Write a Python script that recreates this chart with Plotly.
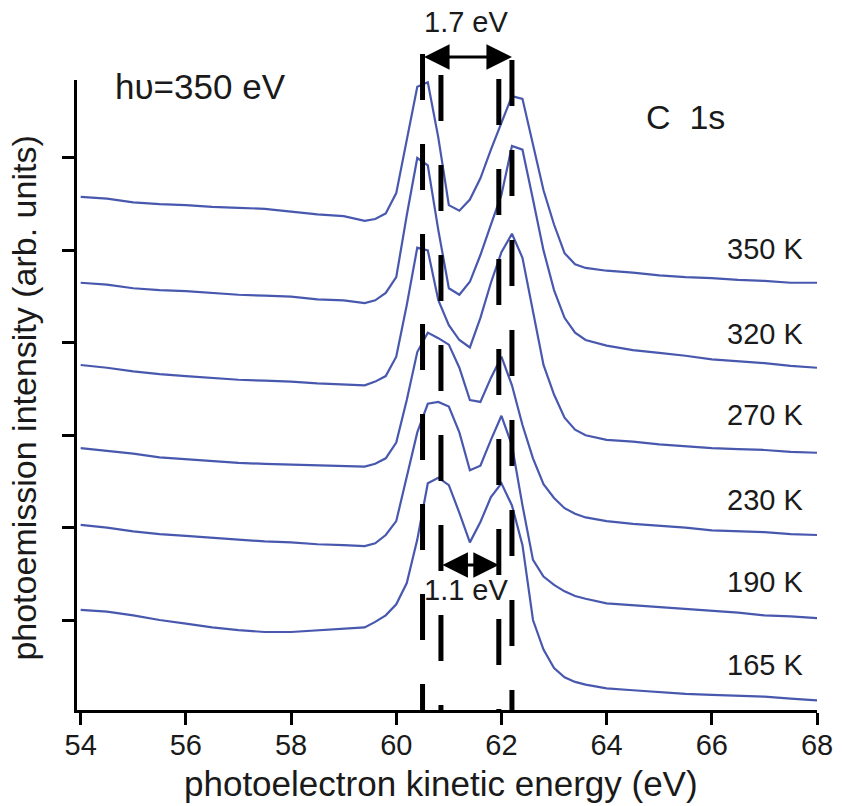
import plotly.graph_objects as go

# photoelectron kinetic energy (eV)
energy = [54.0, 54.5, 55.0, 55.5, 56.0, 56.5, 57.0, 57.5, 58.0, 58.5, 59.0,
          59.4, 59.6, 59.8, 60.0, 60.2, 60.4, 60.6, 60.8, 61.0, 61.2, 61.4,
          61.6, 61.8, 62.0, 62.2, 62.4, 62.6, 62.8, 63.0, 63.2, 63.4, 63.6,
          64.0, 64.5, 65.0, 65.5, 66.0, 66.5, 67.0, 67.5, 68.0]

# photoemission intensity (arb. units), spectra offset vertically
i350 = [5.58, 5.56, 5.52, 5.50, 5.49, 5.47, 5.46, 5.45, 5.42, 5.39, 5.37,
        5.32, 5.34, 5.40, 5.62, 6.20, 6.77, 6.82, 6.22, 5.49, 5.43, 5.55,
        5.78, 6.09, 6.39, 6.67, 6.64, 6.14, 5.65, 5.28, 4.97, 4.85, 4.81,
        4.78, 4.76, 4.73, 4.71, 4.70, 4.68, 4.67, 4.65, 4.65]
i320 = [4.65, 4.63, 4.59, 4.57, 4.56, 4.54, 4.52, 4.51, 4.50, 4.47, 4.46,
        4.43, 4.46, 4.54, 4.71, 5.38, 6.00, 5.92, 5.22, 4.59, 4.52, 4.66,
        4.95, 5.28, 5.60, 6.13, 6.09, 5.55, 5.00, 4.57, 4.27, 4.11, 4.03,
        3.97, 3.92, 3.89, 3.86, 3.82, 3.80, 3.78, 3.75, 3.73]
i270 = [3.76, 3.73, 3.69, 3.66, 3.64, 3.62, 3.60, 3.59, 3.58, 3.56, 3.55,
        3.54, 3.58, 3.64, 3.85, 4.41, 5.03, 5.00, 4.46, 4.19, 4.03, 3.95,
        4.27, 4.65, 4.98, 5.18, 4.92, 4.35, 3.76, 3.44, 3.19, 3.06, 3.00,
        2.95, 2.93, 2.90, 2.88, 2.86, 2.85, 2.84, 2.82, 2.81]
i230 = [2.86, 2.83, 2.80, 2.76, 2.74, 2.72, 2.70, 2.69, 2.68, 2.67, 2.66,
        2.66, 2.69, 2.75, 2.92, 3.38, 3.90, 4.11, 4.05, 3.98, 3.73, 3.38,
        3.36, 3.62, 3.85, 3.54, 3.11, 2.75, 2.47, 2.32, 2.21, 2.15, 2.11,
        2.07, 2.04, 2.02, 2.00, 1.97, 1.96, 1.95, 1.93, 1.92]
i190 = [2.03, 2.00, 1.96, 1.93, 1.91, 1.89, 1.87, 1.85, 1.84, 1.82, 1.81,
        1.80, 1.83, 1.92, 2.07, 2.54, 3.03, 3.34, 3.36, 3.31, 3.03, 2.62,
        2.67, 2.95, 3.21, 2.89, 2.24, 1.65, 1.47, 1.38, 1.31, 1.26, 1.23,
        1.18, 1.16, 1.14, 1.12, 1.10, 1.08, 1.05, 1.04, 1.02]
i165 = [1.11, 1.09, 1.05, 1.00, 0.96, 0.92, 0.89, 0.87, 0.87, 0.89, 0.91,
        0.92, 0.98, 1.05, 1.17, 1.40, 1.87, 2.48, 2.54, 2.46, 2.16, 1.84,
        2.06, 2.33, 2.48, 2.24, 1.81, 1.00, 0.68, 0.48, 0.38, 0.33, 0.30,
        0.26, 0.24, 0.22, 0.20, 0.19, 0.18, 0.17, 0.15, 0.13]

temps = ["350 K", "320 K", "270 K", "230 K", "190 K", "165 K"]
spectra = [i350, i320, i270, i230, i190, i165]
label_y = [5.02, 4.10, 3.22, 2.30, 1.41, 0.51]

# peak positions (eV) marked by dashed lines
peak_pos = [60.5, 60.85, 61.95, 62.2]
x_ticks = [54, 56, 58, 60, 62, 64, 66, 68]
y_ticks = [1, 2, 3, 4, 5, 6]

FONT = "Liberation Sans, Arial, Helvetica, sans-serif"
TXT = "#1a1a1a"
BLUE = "#4858ae"

fig = go.Figure()
for t, s in zip(temps, spectra):
    fig.add_trace(go.Scatter(x=energy, y=s, mode="lines", name=t,
                             line=dict(color=BLUE, width=2.2)))

# dashed vertical markers (top in paper units, dash phase set by start)
dash_tops = [1.0413, 1.0079, 1.0016, 1.0317]
for xp, top in zip(peak_pos, dash_tops):
    fig.add_shape(type="line", xref="x", yref="paper", x0=xp, x1=xp,
                  y0=top, y1=0, line=dict(color="black", width=5, dash="46px,44px"))

ann = []
for t, yl in zip(temps, label_y):
    ann.append(dict(x=67.77, y=yl, xref="x", yref="y", text=t, showarrow=False,
                    xanchor="right", yanchor="middle",
                    font=dict(size=29, color=TXT, family=FONT)))

ann.append(dict(x=54.62, y=6.77, xref="x", yref="y", text="hυ=350 eV", showarrow=False,
                xanchor="left", yanchor="middle", font=dict(size=35, color=TXT, family=FONT)))
ann.append(dict(x=64.72, y=6.44, xref="x", yref="y", text="C\u00a0\u00a01s", showarrow=False,
                xanchor="left", yanchor="middle", font=dict(size=34, color=TXT, family=FONT)))
ann.append(dict(x=61.34, y=1.092, xref="x", yref="paper", text="1.7 eV", showarrow=False,
                xanchor="center", yanchor="middle", font=dict(size=29, color=TXT, family=FONT)))
ann.append(dict(x=61.33, y=1.32, xref="x", yref="y", text="1.1 eV", showarrow=False,
                xanchor="center", yanchor="middle", font=dict(size=29, color=TXT, family=FONT)))
# double-headed arrows
ann.append(dict(x=peak_pos[3], y=1.0365, ax=peak_pos[0], ay=0, xref="x", yref="paper",
                axref="x", ayref="pixel", text="", showarrow=True, arrowside="end+start",
                arrowhead=2, arrowsize=1.7, arrowwidth=3, arrowcolor="black"))
ann.append(dict(x=peak_pos[2], y=1.595, ax=peak_pos[1], ay=1.595, xref="x", yref="y",
                axref="x", ayref="y", text="", showarrow=True, arrowside="end+start",
                arrowhead=2, arrowsize=1.7, arrowwidth=3, arrowcolor="black"))
# axis titles
ann.append(dict(x=0.492, y=-0.116, xref="paper", yref="paper",
                text="photoelectron kinetic energy (eV)", showarrow=False,
                xanchor="center", yanchor="middle", font=dict(size=35, color=TXT, family=FONT)))
ann.append(dict(x=-0.071, y=0.495, xref="paper", yref="paper", textangle=-90,
                text="photoemission intensity (arb. units)", showarrow=False,
                xanchor="center", yanchor="middle", font=dict(size=34, color=TXT, family=FONT)))

fig.update_layout(
    width=842, height=806,
    margin=dict(l=77, r=25, t=80, b=96, autoexpand=False),
    paper_bgcolor="white", plot_bgcolor="white",
    showlegend=False,
    annotations=ann,
    font=dict(family=FONT, color=TXT),
)
fig.update_xaxes(range=[53.93, 68], tickvals=x_ticks, ticks="outside", ticklen=12,
                 tickwidth=3, tickcolor="black", showline=True, linecolor="black",
                 linewidth=3, showgrid=False, zeroline=False, automargin=False,
                 ticklabelstandoff=-5,
                 tickfont=dict(size=29, color=TXT, family=FONT))
fig.update_yaxes(range=[0.026, 6.844], tickvals=y_ticks, ticks="outside", ticklen=12,
                 tickwidth=3, tickcolor="black", showline=True, linecolor="black",
                 linewidth=3, showgrid=False, zeroline=False, showticklabels=False,
                 automargin=False)

fig.write_html("out.html", config={"displayModeBar": False},
               post_script="document.body.style.margin='0';")
